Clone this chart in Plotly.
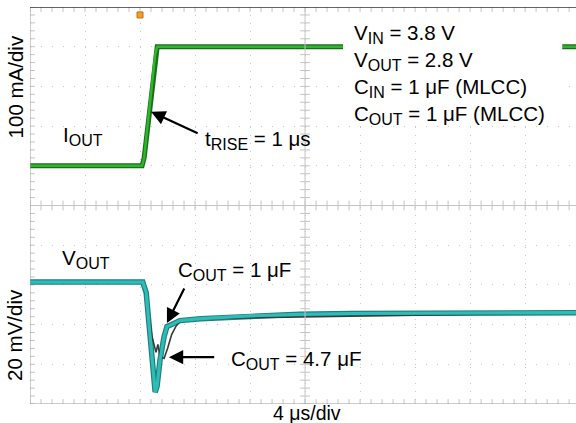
import plotly.graph_objects as go

# time in µs (4 µs/div), amplitude in screen divisions (0 = bottom, 10 = top)
t_iout = [0, 8.15, 8.3, 9.1, 9.25, 39.7]
iout = [6.0, 6.0, 6.2, 8.8, 9.0, 9.0]

t_v1 = [0, 8.2, 8.45, 8.73, 8.95, 9.1, 9.24, 9.45, 9.75, 9.96, 10.3, 10.9, 12.4, 16.0, 19.6, 23.3, 30.5, 39.7]
vout_1uf = [3.07, 3.07, 2.8, 1.8, 0.9, 0.3, 0.45, 1.1, 1.7, 1.95, 2.0, 2.1, 2.15, 2.22, 2.26, 2.28, 2.29, 2.3]

t_v47 = [0, 8.2, 8.5, 8.87, 9.16, 9.3, 9.45, 9.75, 10.0, 10.3, 10.6, 10.9, 12.4, 39.7]
vout_47uf = [3.07, 3.07, 2.6, 1.7, 1.3, 1.5, 1.2, 1.15, 1.4, 1.75, 1.95, 2.08, 2.15, 2.3]

def sub(s):
    return "<sub><span style='font-size:16px'>" + s + "</span></sub>"

info_lines = ["V" + sub("IN") + " = 3.8 V", "V" + sub("OUT") + " = 2.8 V",
              "C" + sub("IN") + " = 1 μF (MLCC)", "C" + sub("OUT") + " = 1 μF (MLCC)"]

FONT = "Liberation Sans, Arial, sans-serif"
FS = 20.5
XMAX = 39.7

fig = go.Figure()

# graticule tick marks on centre lines and borders
minor_x = [i * 0.8 for i in range(0, 50)]
minor_y = [i * 0.2 for i in range(0, 51)]
tick_style = dict(color="#c4c4c4", size=7, line=dict(color="#c4c4c4", width=1))
for yy in [0, 5, 10]:
    fig.add_trace(go.Scatter(x=minor_x, y=[yy] * len(minor_x), mode="markers",
                             marker=dict(symbol="line-ns", **tick_style), hoverinfo="skip"))
for xx in [0, 20]:
    fig.add_trace(go.Scatter(x=[xx] * len(minor_y), y=minor_y, mode="markers",
                             marker=dict(symbol="line-ew", **tick_style), hoverinfo="skip"))

# traces
fig.add_trace(go.Scatter(x=t_iout, y=iout, mode="lines", line=dict(color="#1a6e1a", width=5)))
fig.add_trace(go.Scatter(x=t_iout, y=iout, mode="lines", line=dict(color="#2cb62c", width=2.5)))
fig.add_trace(go.Scatter(x=t_v1, y=vout_1uf, mode="lines", line=dict(color="#1f7f7c", width=5.5)))
fig.add_trace(go.Scatter(x=t_v47, y=vout_47uf, mode="lines", line=dict(color="#3a3a3a", width=1.6)))
fig.add_trace(go.Scatter(x=t_v1, y=vout_1uf, mode="lines", line=dict(color="#2dbcb8", width=3.2)))

# trigger marker
fig.add_trace(go.Scatter(x=[8.0], y=[9.8], mode="markers", cliponaxis=False,
                         marker=dict(symbol="square", size=6, color="#f0a020",
                                     line=dict(color="#c07010", width=1))))

shapes = [
    dict(type="line", x0=0, x1=XMAX, y0=5, y1=5, line=dict(color="#c4c4c4", width=1)),
    dict(type="line", x0=20, x1=20, y0=0, y1=10, line=dict(color="#c4c4c4", width=1)),
    dict(type="line", x0=0, x1=0, y0=0, y1=10, line=dict(color="#9a9a9a", width=1)),
    dict(type="line", x0=0, x1=XMAX, y0=0, y1=0, line=dict(color="#9a9a9a", width=1)),
    dict(type="line", x0=0, x1=XMAX, y0=10, y1=10, line=dict(color="#333333", width=1.5)),
    dict(type="rect", x0=22.76, x1=38.7, y0=7.08, y1=9.87, layer="above",
         fillcolor="white", line=dict(width=0)),
]

ann = []
def label(x, y, text):
    ann.append(dict(x=x, y=y, xref="x", yref="y", text=text, showarrow=False,
                    xanchor="left", yanchor="middle", font=dict(size=FS, color="black", family=FONT)))

def arrow(x, y, ax, ay):
    ann.append(dict(x=x, y=y, ax=ax, ay=ay, xref="x", yref="y", axref="x", ayref="y",
                    text="", showarrow=True, arrowhead=2, arrowsize=1.3, arrowwidth=2.2,
                    arrowcolor="black"))

label(2.25, 6.74, "I" + sub("OUT"))
label(12.58, 6.66, "t" + sub("RISE") + " = 1 μs")
label(2.18, 3.64, "V" + sub("OUT"))
label(10.62, 3.34, "C" + sub("OUT") + " = 1 μF")
label(14.47, 1.12, "C" + sub("OUT") + " = 4.7 μF")
for i, line in enumerate(info_lines):
    label(23.42, 9.31 - i * 0.68, line)

arrow(8.8, 7.36, 12.3, 6.8)
arrow(9.96, 2.04, 11.27, 2.95)
arrow(10.1, 1.18, 13.5, 1.18)

ann.append(dict(x=-0.0275, y=0.80, xref="paper", yref="paper", text="100 mA/div", textangle=-90,
                xanchor="center", yanchor="middle",
                showarrow=False, font=dict(size=FS, color="black", family=FONT)))
ann.append(dict(x=-0.0275, y=0.174, xref="paper", yref="paper", text="20 mV/div", textangle=-90,
                xanchor="center", yanchor="middle",
                showarrow=False, font=dict(size=FS, color="black", family=FONT)))
ann.append(dict(x=0.508, y=-0.0227, xref="paper", yref="paper", text="4 μs/div",
                xanchor="center", yanchor="middle",
                showarrow=False, font=dict(size=FS - 1, color="black", family=FONT)))

fig.update_layout(
    width=576, height=423,
    margin=dict(l=30, r=0, t=7, b=19),
    plot_bgcolor="white", paper_bgcolor="white",
    showlegend=False,
    shapes=shapes, annotations=ann,
    xaxis=dict(range=[0, XMAX], dtick=4, tick0=0, showticklabels=False, zeroline=False,
               showgrid=True, gridcolor="#c8c8c8", gridwidth=1, griddash="1px,7px"),
    yaxis=dict(range=[0, 10], dtick=1, tick0=0, showticklabels=False, zeroline=False,
               showgrid=True, gridcolor="#c8c8c8", gridwidth=1, griddash="1px,10px"),
)

# drop the default page margin so the figure sits at the window's corner
fig.write_html("out.html", config={"displayModeBar": False},
               post_script="document.body.style.margin='0';")
